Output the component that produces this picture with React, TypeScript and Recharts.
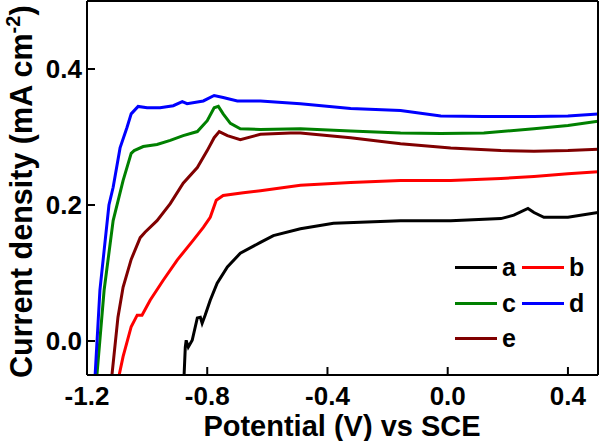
import React from 'react';
import { LineChart, Line, XAxis, YAxis, Label } from 'recharts';

// potential (V vs SCE), current density (mA cm-2)
const curveA: [number, number][] = [
  [-0.877, -0.05], [-0.873, -0.009], [-0.87, 0.001], [-0.863, -0.009], [-0.85, 0.001],
  [-0.833, 0.034], [-0.823, 0.035], [-0.817, 0.026], [-0.807, 0.038], [-0.79, 0.06],
  [-0.767, 0.085], [-0.733, 0.109], [-0.69, 0.129], [-0.623, 0.145], [-0.58, 0.155],
  [-0.49, 0.165], [-0.38, 0.173], [-0.157, 0.177], [0.01, 0.177], [0.177, 0.18],
  [0.22, 0.185], [0.267, 0.195], [0.287, 0.189], [0.32, 0.182], [0.4, 0.182], [0.5, 0.189],
];

const curveB: [number, number][] = [
  [-1.093, -0.05], [-1.08, -0.023], [-1.053, 0.021], [-1.033, 0.038], [-1.017, 0.038],
  [-0.99, 0.06], [-0.947, 0.089], [-0.9, 0.119], [-0.847, 0.148], [-0.813, 0.167],
  [-0.79, 0.182], [-0.77, 0.207], [-0.747, 0.214], [-0.68, 0.218], [-0.623, 0.221],
  [-0.49, 0.229], [-0.323, 0.233], [-0.157, 0.236], [0.01, 0.236], [0.177, 0.239],
  [0.287, 0.242], [0.4, 0.246], [0.5, 0.249],
];

const curveC: [number, number][] = [
  [-1.167, -0.05], [-1.143, 0.075], [-1.113, 0.177], [-1.08, 0.236], [-1.053, 0.276],
  [-1.043, 0.28], [-1.013, 0.286], [-0.967, 0.289], [-0.923, 0.295], [-0.88, 0.302],
  [-0.833, 0.308], [-0.8, 0.324], [-0.777, 0.343], [-0.763, 0.345], [-0.747, 0.334],
  [-0.723, 0.32], [-0.69, 0.312], [-0.623, 0.311], [-0.49, 0.312], [-0.323, 0.309],
  [-0.157, 0.306], [-0.023, 0.305], [0.12, 0.306], [0.287, 0.312], [0.4, 0.317], [0.5, 0.323],
];

const curveD: [number, number][] = [
  [-1.173, -0.05], [-1.157, 0.075], [-1.127, 0.2], [-1.113, 0.226], [-1.09, 0.284],
  [-1.067, 0.314], [-1.053, 0.334], [-1.03, 0.345], [-1.0, 0.343], [-0.957, 0.343],
  [-0.913, 0.346], [-0.883, 0.352], [-0.867, 0.349], [-0.813, 0.353], [-0.777, 0.361],
  [-0.747, 0.358], [-0.7, 0.353], [-0.623, 0.353], [-0.49, 0.349], [-0.323, 0.342],
  [-0.157, 0.339], [-0.023, 0.331], [0.12, 0.33], [0.287, 0.33], [0.4, 0.331], [0.5, 0.334],
];

const curveE: [number, number][] = [
  [-1.117, -0.05], [-1.097, 0.035], [-1.08, 0.079], [-1.053, 0.12], [-1.023, 0.152],
  [-1.007, 0.16], [-0.967, 0.177], [-0.923, 0.202], [-0.88, 0.232], [-0.833, 0.255],
  [-0.8, 0.28], [-0.777, 0.299], [-0.76, 0.308], [-0.733, 0.302], [-0.69, 0.296],
  [-0.623, 0.304], [-0.523, 0.306], [-0.49, 0.306], [-0.323, 0.299], [-0.157, 0.29],
  [0.01, 0.284], [0.177, 0.28], [0.287, 0.279], [0.4, 0.28], [0.5, 0.282],
];

const seriesNames = ['a', 'b', 'c', 'd', 'e'];
const seriesColors = ['#000000', '#ff0000', '#008000', '#0000ff', '#800000'];
const seriesData = [curveA, curveB, curveC, curveD, curveE];

const xTicks = [-1.2, -0.8, -0.4, 0, 0.4];
const yTicks = [0, 0.2, 0.4];
const xDomain: [number, number] = [-1.2, 0.5];
const yDomain: [number, number] = [-0.05, 0.5];

const FONT = '"Liberation Sans", Arial, sans-serif';

const toPoints = (pts: [number, number][]) => pts.map(([v, i]) => ({ v, i }));

function LegendBox() {
  return (
    <div
      style={{
        position: 'absolute',
        left: 455,
        top: 250,
        display: 'grid',
        gridTemplateColumns: '67px 67px',
        fontFamily: FONT,
        fontWeight: 'bold',
        fontSize: 25,
        lineHeight: '35.5px',
        color: '#000',
      }}
    >
      {seriesNames.map((n, idx) => (
        <div key={n} style={{ display: 'flex', alignItems: 'center' }}>
          <span
            style={{
              display: 'inline-block',
              width: 42,
              height: 3,
              background: seriesColors[idx],
              marginRight: 5,
            }}
          />
          <span>{n}</span>
        </div>
      ))}
    </div>
  );
}

export default function App() {
  const tickStyle = { fill: '#000', fontSize: 26, fontWeight: 'bold', fontFamily: FONT };
  return (
    <div style={{ position: 'absolute', left: 0, top: 0, width: 600, height: 441, background: '#fff' }}>
      <LineChart width={600} height={441} margin={{ top: 0, right: 1, bottom: 0, left: 0 }}>
        <XAxis
          dataKey="v"
          type="number"
          domain={xDomain}
          allowDataOverflow
          ticks={xTicks}
          tickFormatter={(v: number) => v.toFixed(1)}
          height={66}
          tickSize={-8}
          tickMargin={20}
          tick={tickStyle}
          axisLine={{ stroke: '#000', strokeWidth: 2 }}
          tickLine={{ stroke: '#000', strokeWidth: 2 }}
        >
          <Label
            content={() => (
              <text x={342} y={436} textAnchor="middle" fontFamily={FONT} fontWeight="bold" fontSize={29} fill="#000">
                Potential (V) vs SCE
              </text>
            )}
          />
        </XAxis>
        <XAxis
          xAxisId="top"
          orientation="top"
          type="number"
          domain={xDomain}
          height={1}
          tick={false}
          tickLine={false}
          axisLine={{ stroke: '#000', strokeWidth: 2 }}
        />
        <YAxis
          dataKey="i"
          type="number"
          domain={yDomain}
          allowDataOverflow
          ticks={yTicks}
          tickFormatter={(v: number) => v.toFixed(1)}
          width={87}
          tickSize={-8}
          tickMargin={13}
          tick={tickStyle}
          axisLine={{ stroke: '#000', strokeWidth: 2 }}
          tickLine={{ stroke: '#000', strokeWidth: 2 }}
        >
          <Label
            content={() => (
              <text
                x={32}
                y={378}
                transform="rotate(-90, 32, 378)"
                textAnchor="start"
                fontFamily={FONT}
                fontWeight="bold"
                fontSize={30.5}
                fill="#000"
              >
                Current density (mA cm
                <tspan dy={-12} fontSize={20}>-2</tspan>
                <tspan dy={12}>)</tspan>
              </text>
            )}
          />
        </YAxis>
        <YAxis
          yAxisId="right"
          orientation="right"
          type="number"
          domain={yDomain}
          width={1}
          tick={false}
          tickLine={false}
          axisLine={{ stroke: '#000', strokeWidth: 2 }}
        />
        {seriesData.map((pts, idx) => (
          <Line
            key={seriesNames[idx]}
            data={toPoints(pts)}
            dataKey="i"
            name={seriesNames[idx]}
            type="linear"
            stroke={seriesColors[idx]}
            strokeWidth={3}
            dot={false}
            activeDot={false}
            isAnimationActive={false}
          />
        ))}
      </LineChart>
      <LegendBox />
    </div>
  );
}
